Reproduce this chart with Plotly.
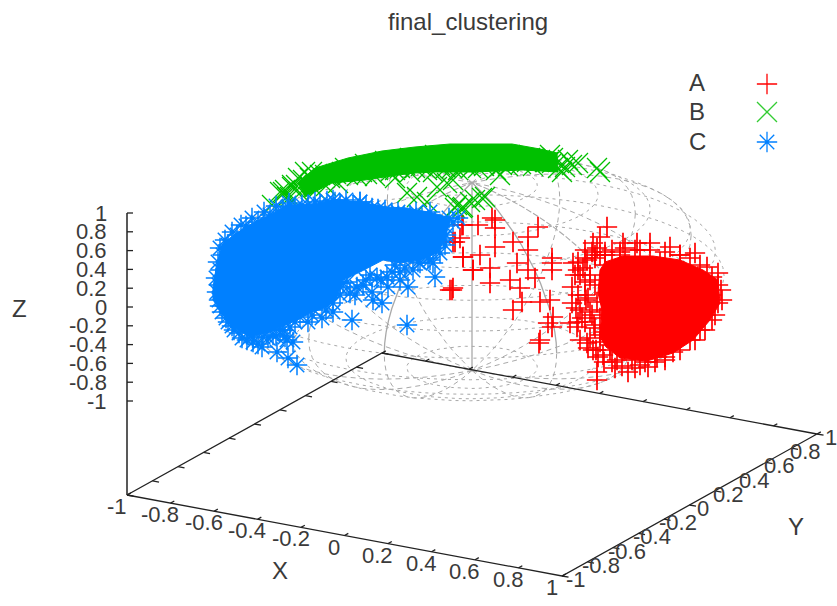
import math
import plotly.graph_objects as go

W, H = 837, 606
TITLE = "final_clustering"
SERIES = ["A", "B", "C"]
TICKS = [-1, -0.8, -0.6, -0.4, -0.2, 0, 0.2, 0.4, 0.6, 0.8, 1]
RED, GREEN, BLUE = "#ff0000", "#00c000", "#0080ff"
GREY, INK = "#a9a9a9", "#222222"

a_x = [718,718,718,712,700,690,673,657,648,628,617,597,598,597,587,577,570,572,572,573,593,607,600,637,650,670,695,707,623,587,
       580,585,592,600,576,582,590,578,585,595,605,612,588,580,596,604,610,586,594,602,620,640,660,680,612,632,
       578,583,590,575,585,595,578,588,597,580,590,600,585,595,605,590,600,610,593,603,612,622,635,645,655,665,680,695,705,715,722,721,712,700,690,680,665,650,635,620,605,595,585,597,600,592,
       492,495,495,538,528,513,528,495,480,463,473,490,490,517,510,520,535,528,552,552,552,522,513,540,550,548,553,552,540,539,450,453,455,460,463,478,462,453,452,473,463,578,640,655,705,712,665,615,605,625]
a_y = [273,285,303,320,330,340,352,357,367,372,360,372,357,380,343,327,323,303,287,263,243,227,237,243,243,247,253,267,243,260,
       275,295,315,335,308,318,280,270,250,255,265,250,348,340,350,362,345,300,325,310,255,250,262,255,340,360,
       262,268,275,275,282,285,295,298,302,310,312,318,322,328,332,338,342,350,350,355,362,366,368,362,362,360,350,340,330,315,300,290,277,265,258,255,252,250,250,252,252,258,258,248,255,252,
       218,220,228,227,237,242,250,247,255,257,270,268,283,263,280,288,278,270,258,263,270,302,310,302,300,323,317,327,340,343,290,288,242,238,225,225,225,242,290,270,257,322,365,352,315,295,357,368,255,248]
a_core_x = [605,623,653,680,703,718,720,710,693,673,647,620,606,600,602,598,600]
a_core_y = [262,256,256,260,270,280,303,320,340,353,361,358,347,337,310,293,270]

b_x = [283,290,296,303,310,320,330,342,352,362,372,385,395,405,415,427,440,452,465,478,490,502,515,527,540,550,552,
       325,345,365,385,410,435,460,485,510,530,548,
       287,280,407,417,427,447,463,457,470,455,462,475,482,485,453,565,572,558,600,597,578,272,292,375,395,437,500,
       285,292,298,305,312,336,348,357,367,378,390,400,410,421,433,446,458,471,484,496,508,521,533,545,
       300,316,326,338,558,553,562,568]
b_y = [192,197,185,180,178,175,178,172,170,172,168,165,170,165,168,170,165,168,165,168,162,165,160,162,160,155,163,
       175,168,164,161,158,155,155,155,155,158,162,
       197,192,193,197,202,183,207,205,202,208,208,200,198,197,180,167,165,162,172,168,163,205,187,176,178,187,175,
       190,185,178,172,172,174,175,176,174,170,172,168,172,166,172,168,170,168,166,170,166,164,166,162,
       193,190,186,183,168,158,172,160]
b_core_x = [298,315,348,382,415,450,512,540,557,558,523,473,433,415,398,365,332,305]
b_core_y = [183,168,158,151,147,144,144,149,153,172,170,172,172,173,175,180,183,197]

c_x = [219,220,223,219,222,228,234,242,253,262,228,237,246,258,270,283,295,308,320,333,346,360,372,385,398,410,422,435,445,453,446,440,
       288,335,360,430,458,435,408,388,373,382,352,407,333,308,293,287,277,288,297,253,
       340,343,357,363,377,387,400,413,420,433,440,445,430,333,320,300,290,280,270,263,285,372,355,395,425,350,370,400,415,
       216,217,218,220,225,232,241,252,264,276,289,220,226,232,239,247,258,268,276,
       302,315,327,340,353,366,378,392,404,416,428,440,449,326,340,347,366,381,392,405,418,428,436,444,312,322,295,283,273]
c_y = [285,270,255,300,312,322,330,338,342,347,245,235,226,222,215,210,208,205,204,200,200,202,208,210,212,215,218,222,226,222,235,240,
       207,202,202,212,218,277,287,287,300,303,320,325,312,322,342,340,352,358,365,337,
       287,283,287,285,278,277,272,270,263,263,253,245,260,303,300,317,327,330,330,337,337,292,295,265,240,293,275,280,225,
       278,292,262,248,240,232,225,218,212,206,203,306,318,326,333,340,344,338,336,
       205,202,201,204,205,206,209,213,216,212,220,224,218,310,295,282,280,280,272,268,262,258,248,238,315,318,322,330,335]
c_core_x = [213,217,223,237,253,273,287,313,333,360,387,407,433,450,445,437,420,400,383,360,343,337,327,310,297,280,267,250,233,220,213]
c_core_y = [287,263,243,233,223,213,205,205,200,202,207,208,213,218,240,253,260,263,260,272,280,297,307,313,320,327,333,337,327,310,300]

# How the chart's 3-D box sits on the picture plane
ORIGIN = (472.0, 276.5)
EX, EY, EZ = (217.5, 40.5), (127.5, -71.0), (0.0, -94.0)


def project(x, y, z):
    return (ORIGIN[0] + EX[0] * x + EY[0] * y + EZ[0] * z,
            ORIGIN[1] + EX[1] * x + EY[1] * y + EZ[1] * z)


def polyline(points):
    xs, ys = [], []
    for p in points:
        u, v = project(*p)
        xs.append(u)
        ys.append(v)
    return xs, ys


fig = go.Figure()


def line(xs, ys, color, width, dash="solid"):
    fig.add_trace(go.Scatter(x=xs, y=ys, mode="lines", hoverinfo="skip",
                             line=dict(color=color, width=width, dash=dash)))


# Wire-frame unit sphere
for lat in (-75, -60, -45, -30, -15, 0, 15, 30, 45, 60, 75):
    r, z = math.cos(math.radians(lat)), math.sin(math.radians(lat))
    xs, ys = polyline([(r * math.cos(math.radians(t)), r * math.sin(math.radians(t)), z) for t in range(0, 361, 6)])
    line(xs, ys, GREY, 1, "3px,4px")
for off in (-60, -40, -20, 20, 40, 60):
    lon = math.radians(120 + off)
    c, s = math.cos(lon), math.sin(lon)
    # the equator point nearest the viewer starts the lower solid quarter
    start = 0 if 40.5 * c - 71 * s > 0 else 180
    for q in range(4):
        pts = []
        for t in range(0, 91, 6):
            a = math.radians(start - q * 90 - t)
            pts.append((math.cos(a) * c, math.cos(a) * s, math.sin(a)))
        xs, ys = polyline(pts)
        if abs(off) == 20 and q == 0:
            line(xs, ys, GREY, 1.3)
        elif abs(off) == 40 and q == 0:
            line(xs, ys, GREY, 1.1, "6px,2px")
        else:
            line(xs, ys, GREY, 1, "5px,4px")
xs, ys = polyline([(0, 0, 1), (0, 0, -1)])
line(xs, ys, GREY, 1.3)

# Box, floor at z = -2
FLOOR = -2
corners = [(-1, -1), (1, -1), (1, 1), (-1, 1), (-1, -1)]
xs, ys = polyline([(a, b, FLOOR) for a, b in corners])
line(xs, ys, INK, 1.3)
u0, v0 = project(-1, -1, 1)
u1, v1 = project(-1, -1, FLOOR)
line([u0, u1], [v0, v1], INK, 1.5)

TICK = 0.03
tx, ty = [], []
for t in TICKS:
    for a, b in (((t, -1), (t, -1 + TICK)), ((t, 1), (t, 1 + TICK)), ((-1, t), (-1 + TICK, t)), ((1, t), (1 + TICK, t))):
        for p in (a, b):
            u, v = project(p[0], p[1], FLOOR)
            tx.append(u)
            ty.append(v)
        tx.append(None)
        ty.append(None)
line(tx, ty, INK, 1.3)
zx, zy = [], []
for t in TICKS:
    u, v = project(-1, -1, t)
    zx += [u, u + 6, None]
    zy += [v, v, None]
line(zx, zy, INK, 1.3)

# Clusters: solid overplotted core, then the marks around it
for name, cx, cy, px, py, col, sym, size, lw in (
    ("A", a_core_x, a_core_y, a_x, a_y, RED, "cross-thin-open", 14.5, 1.7),
    ("B", b_core_x, b_core_y, b_x, b_y, GREEN, "x-thin-open", 20, 1.3),
    ("C", c_core_x, c_core_y, c_x, c_y, BLUE, "asterisk-open", 17, 1.5),
):
    fig.add_trace(go.Scatter(x=cx + cx[:1], y=cy + cy[:1], mode="lines", fill="toself", fillcolor=col,
                             line=dict(color=col, width=1), hoverinfo="skip"))
    fig.add_trace(go.Scatter(x=px, y=py, mode="markers", name=name,
                             marker=dict(symbol=sym, size=size, color=col, line=dict(color=col, width=lw))))

# Legend
for name, yy, col, sym, size in (("A", 84, RED, "cross-thin-open", 14.5),
                                 ("B", 112, "#33cc33", "x-thin-open", 20),
                                 ("C", 142, BLUE, "asterisk-open", 17)):
    fig.add_trace(go.Scatter(x=[767], y=[yy], mode="markers", hoverinfo="skip",
                             marker=dict(symbol=sym, size=size, color=col, line=dict(color=col, width=1.3))))

FONT = "Liberation Sans"
TXT = "#3a3a3a"


def text(x, y, s, anchor="center", size=22):
    fig.add_annotation(x=x, y=y, text=s, showarrow=False, xanchor=anchor, yanchor="middle",
                       font=dict(family=FONT, size=size, color=TXT))


text(468, 21, TITLE, size=24)
for name, yy in zip(SERIES, (82, 111, 141)):
    text(697, yy, name, size=24)
text(280, 570, "X", size=24)
text(796, 526, "Y", size=24)
text(19, 308, "Z", size=24)
for t in TICKS:
    label = f"{t:g}"
    u, v = project(t, -1, FLOOR)
    text(u - 10.5, v + 11.5, label)
    u, v = project(1, t, FLOOR)
    text(u + 13.5, v + 3.5, label)
    u, v = project(-1, -1, t)
    text(109, v, label, anchor="right")

fig.update_layout(width=W, height=H, margin=dict(l=0, r=0, t=0, b=0), showlegend=False,
                  paper_bgcolor="white", plot_bgcolor="white",
                  xaxis=dict(range=[0, W], visible=False, fixedrange=True),
                  yaxis=dict(range=[H, 0], visible=False, fixedrange=True))
fig.write_html("out.html", config=dict(displayModeBar=False),
               post_script="document.body.style.margin='0';")
